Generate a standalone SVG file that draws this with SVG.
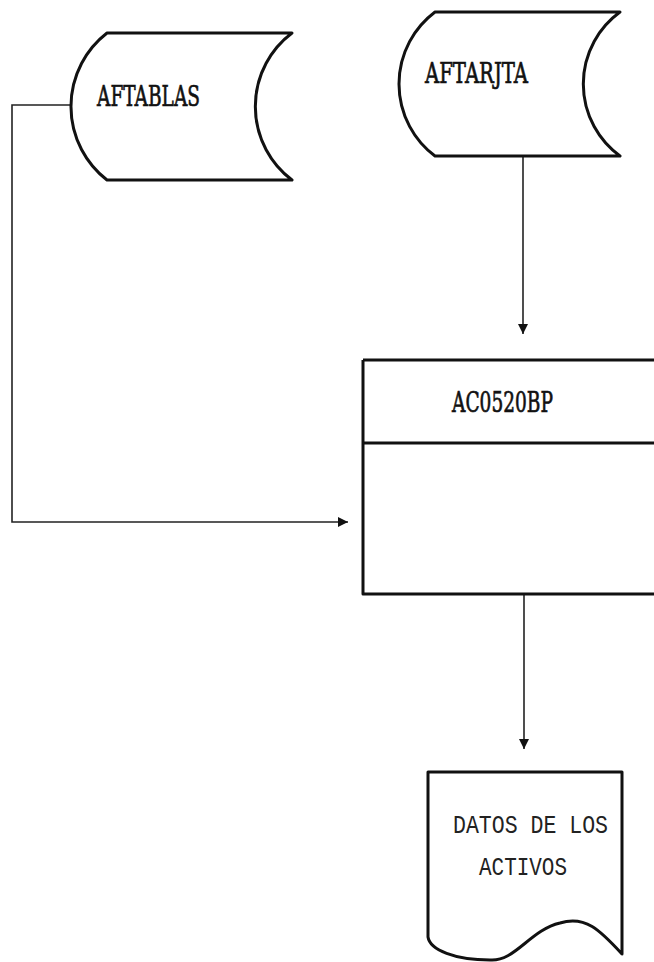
<svg xmlns="http://www.w3.org/2000/svg" width="654" height="962" viewBox="0 0 654 962">
<style>
.shape{fill:#fff;stroke:#111;stroke-width:3;stroke-linejoin:round}
.conn{fill:none;stroke:#222;stroke-width:1.6}
.lbl{font-family:"DejaVu Serif","Liberation Serif",serif;font-weight:normal;fill:#111;stroke:#111;stroke-width:0.7}
.doc{font-family:"Liberation Mono","DejaVu Sans Mono",monospace;fill:#222}
</style>
<defs>
<marker id="arr" viewBox="0 0 10 10" refX="10" refY="5" markerWidth="10" markerHeight="10" markerUnits="userSpaceOnUse" orient="auto">
<path d="M0,0 L10,5 L0,10 Z" fill="#111"/>
</marker>
</defs>
<rect width="654" height="962" fill="#fff"/>
<g id="connectors">
<path class="conn" d="M71,105 H12 V522 H348" marker-end="url(#arr)"/>
<path class="conn" d="M523,157 V334" marker-end="url(#arr)"/>
<path class="conn" d="M524,595 V749" marker-end="url(#arr)"/>
</g>
<g id="aftablas">
<path class="shape" d="M107,33 H292 A92,92 0 0 0 292,180 H107 A93,93 0 0 1 107,33 Z"/>
<text class="lbl" x="97" y="106" font-size="28" textLength="103" lengthAdjust="spacingAndGlyphs">AFTABLAS</text>
</g>
<g id="aftarjta">
<path class="shape" d="M435,12 H620 A89,89 0 0 0 620,156 H435 A90,90 0 0 1 435,12 Z"/>
<text class="lbl" x="425" y="83" font-size="28" textLength="103" lengthAdjust="spacingAndGlyphs">AFTARJTA</text>
</g>
<g id="ac0520bp">
<path class="shape" d="M363,360 H660 M363,360 V594 H660 M363,443 H660"/>
<text class="lbl" x="452" y="412" font-size="28" textLength="101" lengthAdjust="spacingAndGlyphs">AC0520BP</text>
</g>
<g id="datos">
<path class="shape" d="M428,772 H622 V954 C600,930 585,915 560,923 C530,930 515,962 490,960 C455,960 430,950 428,937 Z"/>
<text class="doc" x="453" y="833" font-size="26" textLength="155" lengthAdjust="spacingAndGlyphs">DATOS DE LOS</text>
<text class="doc" x="479" y="875" font-size="26" textLength="88" lengthAdjust="spacingAndGlyphs">ACTIVOS</text>
</g>
</svg>
